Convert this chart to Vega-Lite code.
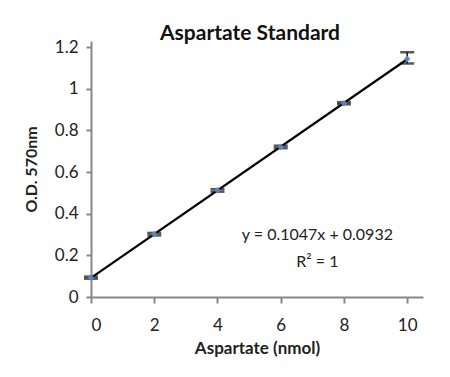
{
  "$schema": "https://vega.github.io/schema/vega-lite/v6.json",
  "autosize": "none",
  "width": 332,
  "height": 256,
  "padding": {"left": 91, "top": 41, "right": 27, "bottom": 80},
  "background": "white",
  "config": {"view": {"stroke": null}, "font": "Lato"},
  "title": {"text": "Aspartate Standard", "font": "Lato", "fontSize": 21, "fontWeight": "bold", "color": "#111", "anchor": "middle", "dx": -7, "dy": 27, "offset": 0, "baseline": "bottom"},
  "data": {"values": [
    {"x": 0, "y": 0.093, "lo": 0.088, "hi": 0.098},
    {"x": 2, "y": 0.302, "lo": 0.296, "hi": 0.308},
    {"x": 4, "y": 0.512, "lo": 0.506, "hi": 0.518},
    {"x": 6, "y": 0.721, "lo": 0.715, "hi": 0.727},
    {"x": 8, "y": 0.931, "lo": 0.926, "hi": 0.936},
    {"x": 10, "y": 1.144, "lo": 1.122, "hi": 1.176}
  ]},
  "encoding": {
    "x": {"field": "x", "type": "quantitative", "scale": {"domain": [0, 10.5], "nice": false},
      "axis": {"title": "Aspartate (nmol)", "values": [0, 2, 4, 6, 8, 10], "grid": false, "domainColor": "#888", "domainWidth": 2, "tickColor": "#888", "tickWidth": 2, "tickSize": 6, "labelFontSize": 17, "labelColor": "#222", "labelPadding": 14, "titleFontSize": 17, "titleFontWeight": "bold", "titleColor": "#222", "titlePadding": 7}},
    "y": {"field": "y", "type": "quantitative", "scale": {"domain": [0, 1.23], "nice": false},
      "axis": {"title": "O.D. 570nm", "values": [0, 0.2, 0.4, 0.6, 0.8, 1, 1.2], "format": "~g", "grid": false, "domainColor": "#888", "domainWidth": 2, "tickColor": "#888", "tickWidth": 2, "tickSize": 5, "labelFontSize": 17, "labelColor": "#222", "labelPadding": 8, "titleFontSize": 16, "titleFontWeight": "bold", "titleColor": "#222", "titlePadding": 15}}
  },
  "layer": [
    {"transform": [{"regression": "y", "on": "x"}],
     "mark": {"type": "line", "color": "#000", "strokeWidth": 2.2}},
    {"mark": {"type": "rule", "color": "#111", "strokeWidth": 1.5},
     "encoding": {"y": {"field": "lo", "type": "quantitative"}, "y2": {"field": "hi"}}},
    {"mark": {"type": "tick", "color": "#111", "thickness": 2.5, "size": 14, "orient": "horizontal"},
     "encoding": {"y": {"field": "lo", "type": "quantitative"}}},
    {"mark": {"type": "tick", "color": "#111", "thickness": 2.5, "size": 14, "orient": "horizontal"},
     "encoding": {"y": {"field": "hi", "type": "quantitative"}}},
    {"mark": {"type": "point", "shape": "diamond", "filled": true, "color": "#5b8fd0", "size": 45, "opacity": 0.9}},
    {"data": {"values": [
       {"tx": 7.16, "ty": 0.30, "label": "y = 0.1047x + 0.0932"},
       {"tx": 7.16, "ty": 0.17, "label": "R² = 1"}
     ]},
     "mark": {"type": "text", "fontSize": 16, "color": "#222", "align": "center", "baseline": "middle"},
     "encoding": {"x": {"field": "tx", "type": "quantitative"}, "y": {"field": "ty", "type": "quantitative"}, "text": {"field": "label"}}}
  ]
}
